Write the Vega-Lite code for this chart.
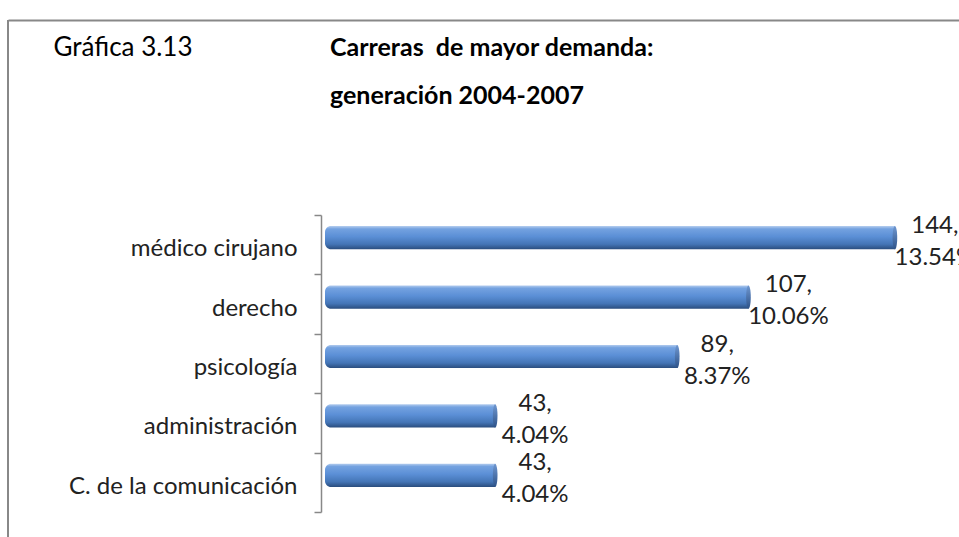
{
  "$schema": "https://vega.github.io/schema/vega-lite/v6.json",
  "width": 951,
  "height": 517,
  "autosize": {"type": "none"},
  "padding": {"left": 8, "top": 20, "right": 0, "bottom": 0},
  "background": "white",
  "config": {"view": {"stroke": null}},
  "title": {
    "text": ["Carreras\u00a0 de mayor demanda:", "generación 2004-2007"],
    "anchor": "start",
    "frame": "group",
    "orient": "top",
    "font": "Lato",
    "fontSize": 25,
    "fontWeight": "bold",
    "color": "#000000",
    "lineHeight": 48,
    "baseline": "top",
    "offset": 0,
    "dx": 322,
    "dy": 101
  },
  "data": {
    "values": [
      {"cat": "médico cirujano", "value": 144, "label": "144,\n13.54%"},
      {"cat": "derecho", "value": 107, "label": "107,\n10.06%"},
      {"cat": "psicología", "value": 89, "label": "89,\n8.37%"},
      {"cat": "administración", "value": 43, "label": "43,\n4.04%"},
      {"cat": "C. de la comunicación", "value": 43, "label": "43,\n4.04%"}
    ]
  },
  "layer": [
    {
      "mark": {
        "type": "bar",
        "height": {"band": 0.39},
        "yOffset": -7,
        "cornerRadiusTopLeft": 6,
        "cornerRadiusBottomLeft": 6,
        "fill": {
          "gradient": "linear",
          "x1": 0, "y1": 0, "x2": 0, "y2": 1,
          "stops": [
            {"offset": 0, "color": "#b3ccee"},
            {"offset": 0.12, "color": "#74a2e0"},
            {"offset": 0.45, "color": "#5b8fd6"},
            {"offset": 0.78, "color": "#4475b6"},
            {"offset": 1, "color": "#2a4d7e"}
          ]
        }
      },
      "encoding": {
        "y": {
          "field": "cat",
          "type": "nominal",
          "sort": null,
          "scale": {"range": [195, 492], "paddingInner": 0, "paddingOuter": 0},
          "axis": {
            "orient": "left",
            "offset": -313,
            "title": null,
            "domain": true,
            "domainColor": "#888888",
            "domainWidth": 1.5,
            "ticks": true,
            "tickBand": "extent",
            "tickSize": 7,
            "tickColor": "#888888",
            "tickWidth": 1.5,
            "grid": false,
            "labelPadding": 17,
            "labelOffset": 4,
            "labelFont": "Lato",
            "labelFontSize": 24,
            "labelColor": "#222222",
            "labelLimit": 400
          }
        },
        "x": {
          "field": "value",
          "type": "quantitative",
          "scale": {"domain": [-80.1, 160.2], "nice": false, "zero": false},
          "axis": {
            "orient": "top",
            "title": "Gráfica 3.13",
            "titleX": 45,
            "titleY": 35,
            "titleAlign": "left",
            "titleAnchor": "start",
            "titleBaseline": "alphabetic",
            "titleFont": "Lato",
            "titleFontSize": 26,
            "titleFontWeight": "normal",
            "titleColor": "#000000",
            "labels": false,
            "ticks": false,
            "grid": false,
            "domain": true,
            "domainColor": "#888888",
            "domainWidth": 2
          }
        },
        "x2": {"datum": 0}
      }
    },
    {
      "data": {"values": [{"b": 1}]},
      "mark": {"type": "rule", "color": "#888888", "strokeWidth": 2},
      "encoding": {
        "x": {"datum": -80.1}
      }
    },
    {
      "mark": {
        "type": "point",
        "filled": true,
        "yOffset": -7,
        "size": 540,
        "opacity": 1,
        "shape": "M0,-1A0.2,1,0,1,1,0,1A0.2,1,0,1,1,0,-1Z",
        "fill": {
          "gradient": "linear",
          "x1": 0, "y1": 0, "x2": 0, "y2": 1,
          "stops": [
            {"offset": 0, "color": "#6f97d0"},
            {"offset": 1, "color": "#2d5288"}
          ]
        },
        "stroke": null
      },
      "encoding": {
        "y": {"field": "cat", "type": "nominal", "sort": null},
        "x": {"field": "value", "type": "quantitative"}
      }
    },
    {
      "mark": {
        "type": "text",
        "align": "center",
        "baseline": "middle",
        "lineBreak": "\n",
        "lineHeight": 32,
        "dx": 40,
        "yOffset": -19,
        "font": "Lato",
        "fontSize": 24,
        "color": "#222222"
      },
      "encoding": {
        "y": {"field": "cat", "type": "nominal", "sort": null},
        "x": {"field": "value", "type": "quantitative"},
        "text": {"field": "label"}
      }
    }
  ]
}
